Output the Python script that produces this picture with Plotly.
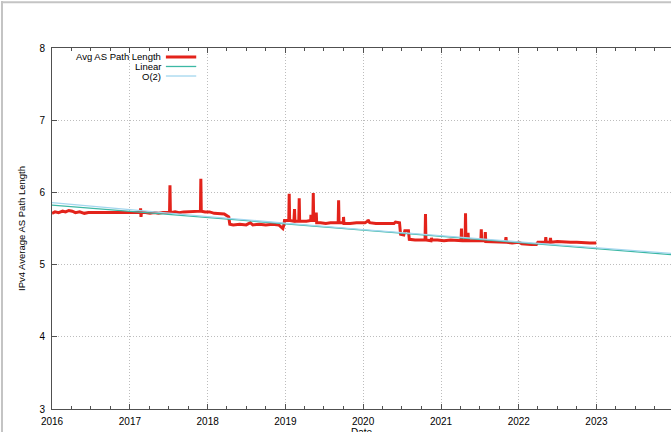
"""
IPv4 average AS path length, 2016-2023, with linear and O(2) fits.
"""

import plotly.graph_objects as go

# Daily average AS path length (spikes included)
dates = [
    "2016-01-01", "2016-01-15", "2016-02-01", "2016-02-20", "2016-03-05", "2016-03-20",
    "2016-04-05", "2016-04-20", "2016-05-10", "2016-06-01", "2016-06-20", "2016-07-10",
    "2016-08-01", "2016-08-20", "2016-09-10", "2016-10-01", "2016-10-20", "2016-11-10",
    "2016-12-01", "2016-12-20", "2017-01-10", "2017-02-01", "2017-02-18", "2017-02-20",
    "2017-02-22", "2017-02-24", "2017-03-15", "2017-04-05", "2017-04-25", "2017-05-15",
    "2017-06-05", "2017-06-25", "2017-07-06", "2017-07-08", "2017-07-10", "2017-08-01",
    "2017-08-20", "2017-09-10", "2017-10-01", "2017-10-20", "2017-11-10", "2017-11-28",
    "2017-11-30", "2017-12-02", "2017-12-20", "2018-01-10", "2018-02-01", "2018-03-01",
    "2018-03-20", "2018-04-10", "2018-04-15", "2018-05-01", "2018-06-01", "2018-07-01",
    "2018-07-20", "2018-08-01", "2018-09-01", "2018-10-01", "2018-11-01", "2018-12-01",
    "2018-12-15", "2018-12-20", "2018-12-25", "2018-12-28", "2019-01-10", "2019-01-17",
    "2019-01-19", "2019-01-21", "2019-02-10", "2019-02-13", "2019-02-15", "2019-03-05",
    "2019-03-07", "2019-03-09", "2019-04-10", "2019-04-30", "2019-05-01", "2019-05-03",
    "2019-05-10", "2019-05-12", "2019-05-14", "2019-05-25", "2019-05-26", "2019-05-28",
    "2019-06-15", "2019-07-10", "2019-08-01", "2019-09-06", "2019-09-08", "2019-09-10",
    "2019-09-30", "2019-10-01", "2019-10-03", "2019-11-01", "2019-12-01", "2020-01-10",
    "2020-01-22", "2020-01-24", "2020-02-01", "2020-03-01", "2020-04-01", "2020-05-01",
    "2020-05-25", "2020-06-01", "2020-06-20", "2020-06-25", "2020-07-10", "2020-07-15",
    "2020-08-01", "2020-08-05", "2020-09-01", "2020-10-01", "2020-10-18", "2020-10-20",
    "2020-10-22", "2020-11-15", "2020-11-17", "2020-11-19", "2020-12-15", "2021-01-15",
    "2021-02-15", "2021-03-15", "2021-04-05", "2021-04-07", "2021-04-09", "2021-04-24",
    "2021-04-26", "2021-04-28", "2021-05-06", "2021-05-08", "2021-05-10", "2021-06-01",
    "2021-07-07", "2021-07-09", "2021-07-11", "2021-07-26", "2021-07-28", "2021-07-30",
    "2021-09-01", "2021-10-01", "2021-10-30", "2021-11-02", "2021-11-04", "2021-12-01",
    "2022-01-01", "2022-01-15", "2022-02-10", "2022-03-01", "2022-03-25", "2022-04-01",
    "2022-05-06", "2022-05-08", "2022-05-10", "2022-05-28", "2022-05-30", "2022-06-01",
    "2022-07-01", "2022-08-01", "2022-09-01", "2022-10-01", "2022-11-01", "2022-12-01",
    "2022-12-31",
]
avg_len = [
    5.71, 5.73, 5.72, 5.74, 5.73, 5.75,
    5.74, 5.72, 5.73, 5.71, 5.72, 5.72,
    5.71, 5.72, 5.72, 5.71, 5.72, 5.71,
    5.72, 5.71, 5.72, 5.71, 5.72, 5.78,
    5.66, 5.72, 5.72, 5.71, 5.72, 5.71,
    5.72, 5.72, 5.72, 6.10, 5.72, 5.73,
    5.72, 5.73, 5.73, 5.74, 5.73, 5.74,
    6.19, 5.74, 5.73, 5.73, 5.71, 5.71,
    5.70, 5.66, 5.56, 5.55, 5.56, 5.55,
    5.58, 5.55, 5.56, 5.55, 5.56, 5.55,
    5.52, 5.50, 5.55, 5.61, 5.61, 5.61,
    5.98, 5.61, 5.60, 5.77, 5.60, 5.60,
    5.92, 5.60, 5.60, 5.61, 5.69, 5.61,
    5.61, 5.99, 5.61, 5.61, 5.72, 5.58,
    5.58, 5.57, 5.58, 5.58, 5.89, 5.58,
    5.58, 5.66, 5.57, 5.57, 5.58, 5.58,
    5.60, 5.62, 5.58, 5.57, 5.57, 5.58,
    5.57, 5.59, 5.58, 5.42, 5.41, 5.47,
    5.47, 5.35, 5.34, 5.34, 5.34, 5.70,
    5.34, 5.33, 5.37, 5.34, 5.34, 5.33,
    5.34, 5.33, 5.33, 5.50, 5.33, 5.33,
    5.71, 5.33, 5.33, 5.44, 5.33, 5.33,
    5.33, 5.49, 5.33, 5.33, 5.45, 5.32,
    5.32, 5.32, 5.31, 5.38, 5.31, 5.30,
    5.31, 5.29, 5.28, 5.28, 5.28, 5.31,
    5.31, 5.38, 5.31, 5.31, 5.37, 5.31,
    5.32, 5.31, 5.31, 5.31, 5.30, 5.30,
    5.30,
]

# Fit curves
linear_dates = ["2016-01-01", "2023-12-17"]
linear_vals = [5.825, 5.137]
quad_dates = ["2016-01-01", "2018-01-01", "2020-01-01", "2022-01-01", "2023-12-17"]
quad_vals = [5.857, 5.665, 5.485, 5.315, 5.155]

year_ticks = ["2016-01-01", "2017-01-01", "2018-01-01", "2019-01-01", "2020-01-01",
              "2021-01-01", "2022-01-01", "2023-01-01"]
year_labels = ["2016", "2017", "2018", "2019", "2020", "2021", "2022", "2023"]

legend_names = ["Avg AS Path Length", "Linear", "O(2)"]

RED = "#e3231b"
TEAL = "#3cb8a4"
SKY = "#a3d6ee"
AXIS = "#505050"
GRID = "#bdbdbd"
FONT = "Liberation Sans, Arial, sans-serif"

fig = go.Figure()

fig.add_trace(go.Scatter(
    x=dates, y=avg_len, mode="lines",
    line=dict(color=RED, width=3),
    name=legend_names[0],
))
fig.add_trace(go.Scatter(
    x=linear_dates, y=linear_vals, mode="lines",
    line=dict(color=TEAL, width=1.3),
    name=legend_names[1],
))
fig.add_trace(go.Scatter(
    x=quad_dates, y=quad_vals, mode="lines",
    line=dict(color=SKY, width=1.3, shape="spline"),
    name=legend_names[2],
))

# gnuplot style key: right aligned text, sample line to the right
key_colors = [RED, TEAL, SKY]
key_widths = [3, 1.3, 1.3]
key_rows = [0.9751, 0.9488, 0.9224]
for name, color, lw, yk in zip(legend_names, key_colors, key_widths, key_rows):
    fig.add_annotation(
        x=0.178, y=yk, xref="paper", yref="paper",
        text=name, showarrow=False, xanchor="right", yanchor="middle",
        borderpad=0,
        font=dict(family=FONT, size=9.5, color="#000000"),
    )
    fig.add_shape(
        type="line", xref="paper", yref="paper",
        x0=0.184, x1=0.233, y0=yk, y1=yk,
        line=dict(color=color, width=lw),
    )

# x axis title sits at the very bottom edge, as in the original
fig.add_annotation(
    x=0.5, y=-0.046, xref="paper", yref="paper",
    text="Date", showarrow=False, xanchor="center", yanchor="top",
    borderpad=0,
    font=dict(family=FONT, size=10, color="#000000"),
)

# grey frame left over from the screenshot
fig.add_shape(type="line", xref="paper", yref="paper",
              x0=-0.0808, x1=-0.0808, y0=-0.1, y1=1.13,
              line=dict(color="#c4c4c4", width=2))
fig.add_shape(type="line", xref="paper", yref="paper",
              x0=-0.0808, x1=1.01, y0=1.127, y1=1.127,
              line=dict(color="#c4c4c4", width=2))

fig.update_layout(
    width=671,
    height=432,
    margin=dict(l=52, r=0, t=48, b=23, autoexpand=False),
    plot_bgcolor="white",
    paper_bgcolor="white",
    showlegend=False,
    font=dict(family=FONT, size=10, color="#000000"),
)

fig.update_xaxes(
    type="date",
    range=["2016-01-01", "2023-12-17"],
    tickvals=year_ticks,
    ticktext=year_labels,
    ticks="inside",
    ticklen=5,
    tickcolor=AXIS,
    ticklabelstandoff=3,
    minor=dict(ticks="inside", ticklen=3, tickcolor=AXIS, dtick="M3", showgrid=False),
    showline=True,
    linecolor=AXIS,
    linewidth=1,
    mirror="allticks",
    showgrid=True,
    gridcolor=GRID,
    griddash="1px,2px",
    gridwidth=1,
    zeroline=False,
    automargin=False,
)
fig.update_yaxes(
    range=[3, 8],
    tickvals=[3, 4, 5, 6, 7, 8],
    ticks="inside",
    ticklen=5,
    tickcolor=AXIS,
    ticklabelstandoff=4,
    showline=True,
    linecolor=AXIS,
    linewidth=1,
    mirror=False,
    showgrid=True,
    gridcolor=GRID,
    griddash="1px,2px",
    gridwidth=1,
    zeroline=False,
    automargin=False,
    title=dict(text="IPv4 Average AS Path Length", standoff=12, font=dict(size=9.5)),
)

# drop the default 8px page margin so the figure sits at the window corner
fig.write_html(
    "out.html",
    config={"displayModeBar": False},
    post_script="document.body.style.margin='0';",
)
